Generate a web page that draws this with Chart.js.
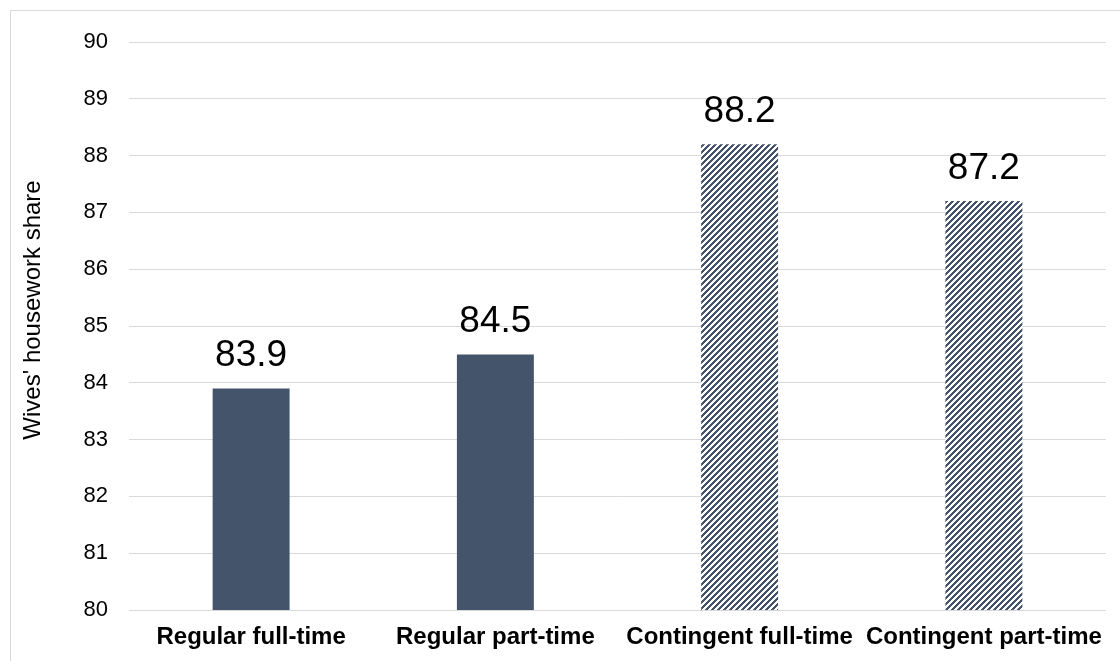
<!DOCTYPE html>
<html>
<head>
<meta charset="utf-8">
<script src="https://cdn.jsdelivr.net/npm/chart.js@4.4.1/dist/chart.umd.min.js"></script>
<style>
  html, body { margin: 0; padding: 0; background: #fff; }
  #wrap { width: 1120px; height: 661px; }
</style>
</head>
<body>
<div id="wrap"><canvas id="c" width="1120" height="661"></canvas></div>
<script>
// Wives' share of housework by wife's employment type
const categories = ['Regular full-time', 'Regular part-time', 'Contingent full-time', 'Contingent part-time'];
const shareValues = [83.9, 84.5, 88.2, 87.2];
const hatched = [false, false, true, true];
const yMin = 80;
const yMax = 90;
const yStep = 1;
const yAxisTitle = "Wives' housework share";

const BAR_COLOR = '#44546A';
const GRID_COLOR = '#d9d9d9';
const FONT = 'Arial, "Liberation Sans", sans-serif';

// Upward diagonal stripe fill for contingent jobs
function makeStripePattern() {
  const size = 6;
  const pc = document.createElement('canvas');
  pc.width = size; pc.height = size;
  const pctx = pc.getContext('2d');
  const img = pctx.createImageData(size, size);
  for (let y = 0; y < size; y++) {
    for (let x = 0; x < size; x++) {
      const i = (y * size + x) * 4;
      const dark = ((x + y) % 6) < 3;
      img.data[i] = dark ? 0x44 : 255;
      img.data[i + 1] = dark ? 0x54 : 255;
      img.data[i + 2] = dark ? 0x6A : 255;
      img.data[i + 3] = 255;
    }
  }
  pctx.putImageData(img, 0, 0);
  return document.getElementById('c').getContext('2d').createPattern(pc, 'repeat');
}
const stripes = makeStripePattern();

// Light frame around the whole chart, plus the rotated axis title
const framePlugin = {
  id: 'frame',
  beforeDraw(chart) {
    const ctx = chart.ctx;
    ctx.save();
    ctx.fillStyle = '#fff';
    ctx.fillRect(0, 0, chart.width, chart.height);
    ctx.strokeStyle = GRID_COLOR;
    ctx.lineWidth = 1;
    ctx.strokeRect(10.5, 10.5, chart.width + 40, chart.height + 40);
    ctx.restore();
  },
  afterDraw(chart) {
    const ctx = chart.ctx;
    ctx.save();
    ctx.translate(33, 310);
    ctx.rotate(-Math.PI / 2);
    ctx.font = '24px ' + FONT;
    ctx.fillStyle = '#000';
    ctx.textAlign = 'center';
    ctx.textBaseline = 'middle';
    ctx.fillText(yAxisTitle, 0, 0);
    ctx.restore();
  }
};

// Value labels above each bar
const valueLabels = {
  id: 'valueLabels',
  afterDatasetsDraw(chart) {
    const ctx = chart.ctx;
    const meta = chart.getDatasetMeta(0);
    ctx.save();
    ctx.font = '37px ' + FONT;
    ctx.fillStyle = '#000';
    ctx.textAlign = 'center';
    ctx.textBaseline = 'alphabetic';
    meta.data.forEach((bar, i) => {
      ctx.fillText(shareValues[i].toFixed(1), bar.x, bar.y - 22);
    });
    ctx.restore();
  }
};

new Chart(document.getElementById('c'), {
  type: 'bar',
  data: {
    labels: categories,
    datasets: [{
      data: shareValues,
      backgroundColor: hatched.map(h => h ? stripes : BAR_COLOR),
      borderWidth: 0,
      categoryPercentage: 1,
      barPercentage: 0.315
    }]
  },
  options: {
    responsive: false,
    animation: false,
    layout: { padding: { top: 42, right: 14, bottom: 0, left: 0 } },
    plugins: {
      legend: { display: false },
      tooltip: { enabled: false },
      title: { display: false }
    },
    scales: {
      x: {
        grid: { display: false, drawTicks: false },
        border: { display: false },
        ticks: {
          color: '#000',
          font: { family: FONT, size: 24, weight: 'bold' },
          padding: 13,
          maxRotation: 0,
          autoSkip: false
        },
        afterFit(scale) { scale.height = 51; }
      },
      y: {
        min: yMin,
        max: yMax,
        grid: { color: GRID_COLOR, lineWidth: 1, drawTicks: false },
        border: { display: false },
        ticks: {
          stepSize: yStep,
          color: '#000',
          font: { family: FONT, size: 22 },
          padding: 21
        },
        afterFit(scale) { scale.width = 129; }
      }
    }
  },
  plugins: [framePlugin, valueLabels]
});
</script>
</body>
</html>
